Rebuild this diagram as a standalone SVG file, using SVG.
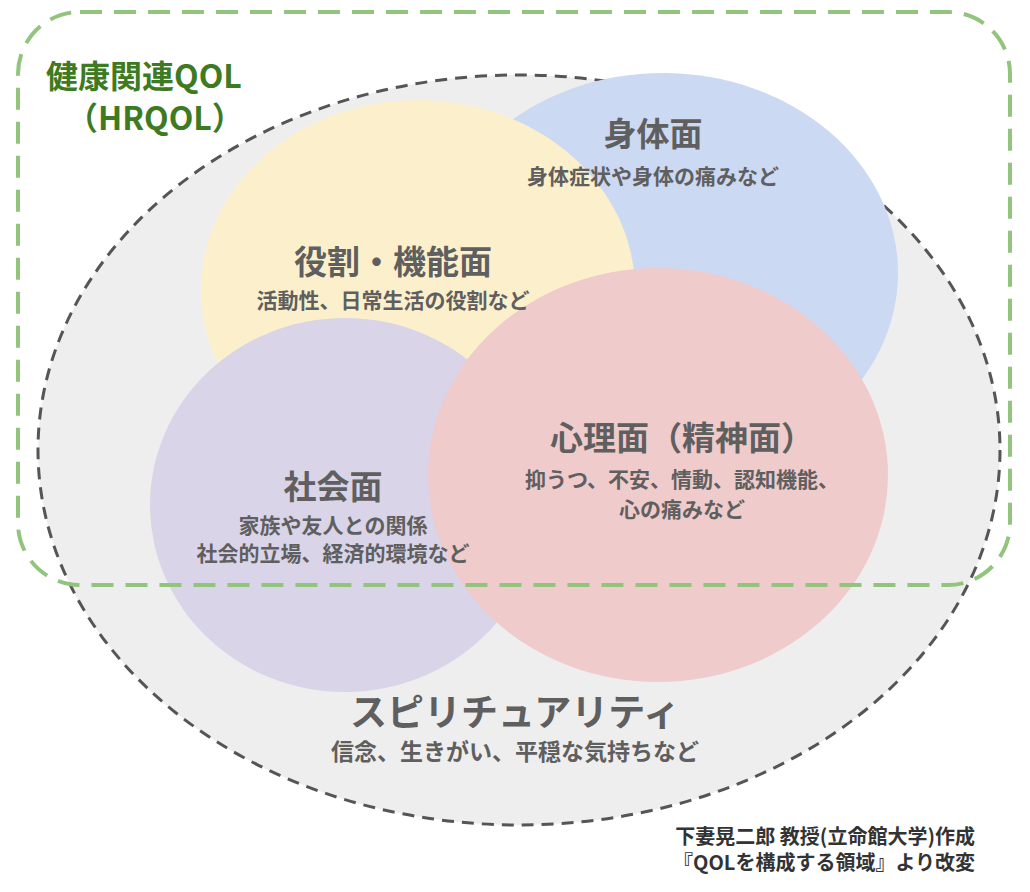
<svg xmlns="http://www.w3.org/2000/svg" width="1030" height="892" viewBox="0 0 1030 892">
<style>
text{font-family:"Noto Sans CJK JP","Noto Sans",sans-serif;font-weight:bold;fill:#5f5f5f;text-anchor:middle}
.h{font-size:33px}.s{font-size:21px}
.g{fill:#3d7a22;font-size:32px;text-anchor:start}
.c{font-size:20px;fill:#333;text-anchor:end}
</style>
<rect width="1030" height="892" fill="#fff"/>
<g id="spirituality"><ellipse cx="519" cy="450" rx="481" ry="375" fill="#eeeeee" stroke="#555" stroke-width="3" stroke-dasharray="12 8"/></g>
<g id="physical"><ellipse cx="663" cy="273" rx="235" ry="200" fill="#ccd9f3"/></g>
<g id="role"><ellipse cx="418" cy="290" rx="217" ry="190" fill="#fcf0cc"/></g>
<g id="social"><ellipse cx="345" cy="505" rx="195" ry="187" fill="#d9d4e8"/></g>
<g id="mental"><ellipse cx="658" cy="475" rx="230" ry="207" fill="#efcbcc"/></g>
<g id="hrqol"><rect x="18" y="12" width="992" height="573" rx="62" fill="none" stroke="#93c47d" stroke-width="4" stroke-dasharray="22 12"/>
<text class="g" x="46" y="88">健康関連QOL</text><text class="g" x="66" y="130">（HRQOL）</text></g>
<g id="labels">
<text class="h" x="653" y="146">身体面</text><text class="s" x="653" y="184">身体症状や身体の痛みなど</text>
<text class="h" x="393" y="274">役割・機能面</text><text class="s" x="393" y="308">活動性、日常生活の役割など</text>
<text class="h" x="682" y="450">心理面（精神面）</text><text class="s" x="682" y="487">抑うつ、不安、情動、認知機能、</text><text class="s" x="682" y="517">心の痛みなど</text>
<text class="h" x="333" y="499">社会面</text><text class="s" x="333" y="533">家族や友人との関係</text><text class="s" x="333" y="561">社会的立場、経済的環境など</text>
<text class="h" x="515" y="726" style="font-size:37px">スピリチュアリティ</text><text class="s" x="515" y="760" style="font-size:23px">信念、生きがい、平穏な気持ちなど</text>
<text class="c" x="975" y="844">下妻晃二郎 教授(立命館大学)作成</text><text class="c" x="975" y="870">『QOLを構成する領域』より改変</text>
</g>
<g id="connectors"/>
</svg>
